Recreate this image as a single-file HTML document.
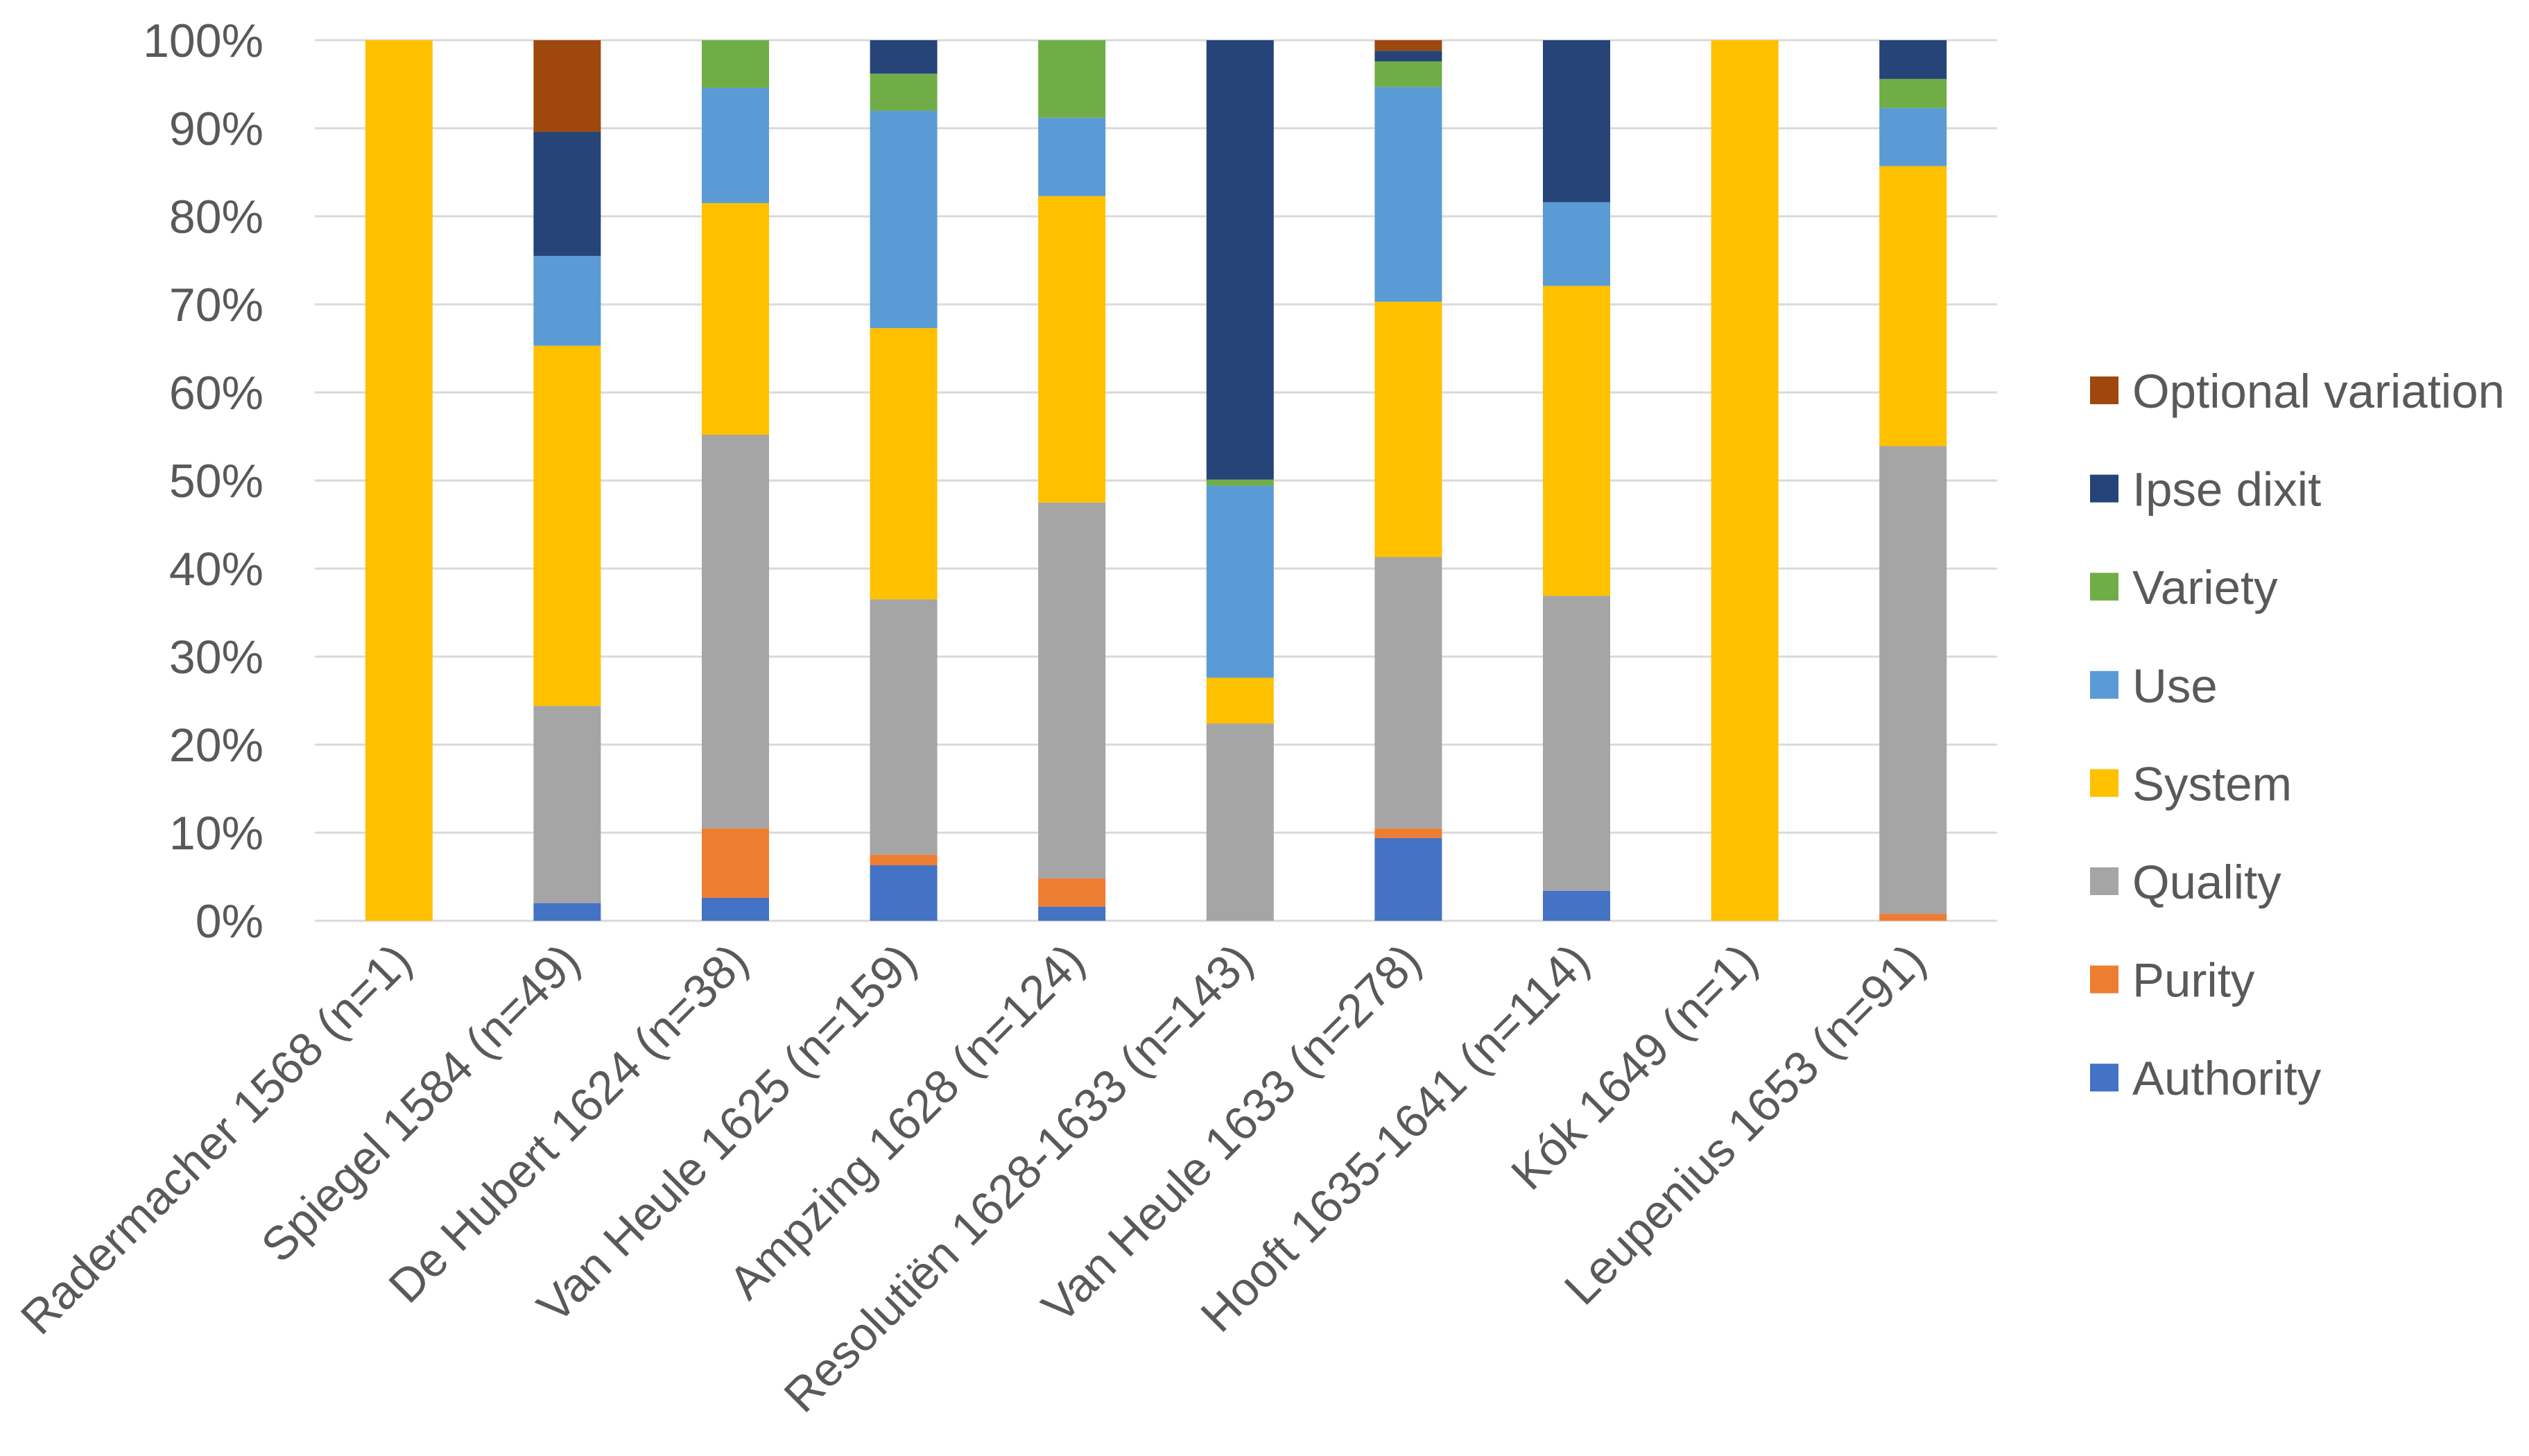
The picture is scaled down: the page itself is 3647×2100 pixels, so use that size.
<!DOCTYPE html>
<html><head><meta charset="utf-8"><style>
html,body{margin:0;padding:0;background:#fff;}
svg{display:block;font-family:"Liberation Sans",sans-serif;}
</style></head><body>
<svg id="chart" width="3647" height="2100" viewBox="0 0 3647 2100"></svg>
<script>
const categories=["Radermacher 1568 (n=1)","Spiegel 1584 (n=49)","De Hubert 1624 (n=38)","Van Heule 1625 (n=159)","Ampzing 1628 (n=124)","Resolutiën 1628-1633 (n=143)","Van Heule 1633 (n=278)","Hooft 1635-1641 (n=114)","Kók 1649 (n=1)","Leupenius 1653 (n=91)"];
const seriesNames=["Authority","Purity","Quality","System","Use","Variety","Ipse dixit","Optional variation"];
const seriesColors=["#4472c4","#ed7d31","#a5a5a5","#ffc000","#5b9bd5","#70ad47","#264478","#9e480e"];
const authority=[0,2,2.6,6.3,1.6,0,9.4,3.4,0,0];
const purity=[0,0,7.9,1.2,3.2,0,1.1,0,0,0.8];
const quality=[0,22.4,44.7,29,42.7,22.4,30.8,33.5,0,53.1];
const system=[100,40.9,26.3,30.8,34.8,5.2,29,35.2,100,31.8];
const use=[0,10.2,13.1,24.7,8.9,21.8,24.4,9.5,0,6.6];
const variety=[0,0,5.4,4.2,8.8,0.7,2.9,0,0,3.3];
const ipseDixit=[0,14.1,0,3.8,0,49.9,1.2,18.4,0,4.4];
const optionalVariation=[0,10.4,0,0,0,0,1.2,0,0,0];
const seriesValues=[authority,purity,quality,system,use,variety,ipseDixit,optionalVariation];
const yTicks=[0,10,20,30,40,50,60,70,80,90,100];
const yTickLabels=yTicks.map(v=>v+"%");

const NS="http://www.w3.org/2000/svg";
const svg=document.getElementById('chart');
const X0=454,X1=2880,Y0=1328,Y1=58;
const band=(X1-X0)/categories.length, barW=97;
function yScale(v){return Y0-(Y0-Y1)*v/100;}
function xCenter(i){return X0+band*(i+0.5);}
function mk(tag,attrs){const e=document.createElementNS(NS,tag);for(const k in attrs)e.setAttribute(k,attrs[k]);svg.appendChild(e);return e;}

yTicks.forEach((v,i)=>{
  const l=mk('line',{x1:X0,x2:X1,y1:yScale(v),y2:yScale(v),stroke:'#d9d9d9','stroke-width':3});
  
  
  const t=mk('text',{x:380,y:yScale(v)+24,'text-anchor':'end','font-size':68,fill:'#595959'});
  t.textContent=yTickLabels[i];
  
  
});

categories.forEach((c,i)=>{
  let acc=0;
  seriesValues.forEach((arr,s)=>{
    const v=arr[i];
    if(v>0){
      const r=mk('rect',{x:xCenter(i)-barW/2,y:yScale(acc+v),width:barW,height:yScale(acc)-yScale(acc+v),fill:seriesColors[s]});
      
      
    }
    acc+=v;
  });
  const tx=xCenter(i)+22, ty=1390;
  const t=mk('text',{x:tx,y:ty,'text-anchor':'end','font-size':68,fill:'#595959',transform:'rotate(-45 '+tx+' '+ty+')'});
  t.textContent=c;
  
  
});

const legendOrder=[7,6,5,4,3,2,1,0];
legendOrder.forEach((s,k)=>{
  const cy=563+k*141.6;
  const r=mk('rect',{x:3014,y:cy-20,width:41,height:40,fill:seriesColors[s]});
  
  
  const t=mk('text',{x:3075,y:cy+25,'font-size':69,fill:'#595959'});
  t.textContent=seriesNames[s];
  
  
});
</script>
</body></html>
